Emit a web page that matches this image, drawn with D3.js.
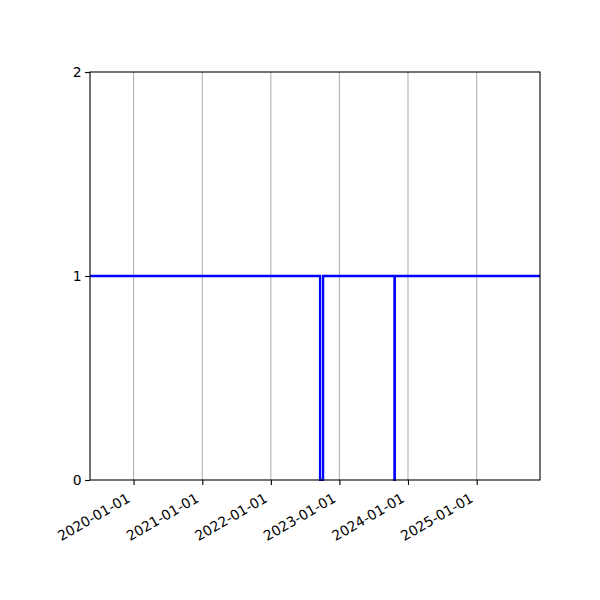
<!DOCTYPE html>
<html>
<meta charset="utf-8">
<style>
  body { margin: 0; background: #fff; }
  text { font-family: "DejaVu Sans", sans-serif; font-size: 13.9px; fill: #000; }
</style>
<script src="https://d3js.org/d3.v7.min.js"></script>
<body>
<script>
var svgWidth = 600, svgHeight = 600;
var margin = { top: 72, right: 60, bottom: 120, left: 90 };

// step series: value holds from each date until the next one
var dates = ["2019-05-14", "2022-09-20", "2022-10-06", "2023-10-21", "2023-10-23", "2025-12-04"];
var values = [1, 0, 1, 0, 1, 1];
var xTicks = ["2020-01-01", "2021-01-01", "2022-01-01", "2023-01-01", "2024-01-01", "2025-01-01"];
var yTicks = [0, 1, 2];

var parse = d3.utcParse("%Y-%m-%d");
var data = dates.map(function(d, i) { return { date: parse(d), value: values[i] }; });

var w = svgWidth - margin.left - margin.right,
    h = svgHeight - margin.top - margin.bottom;

var svg = d3.select("body")
  .append("svg")
  .attr("width", svgWidth)
  .attr("height", svgHeight);

var g = svg.append("g")
  .attr("transform", "translate(" + margin.left + "," + margin.top + ")");

var x = d3.scaleUtc()
  .domain([parse(dates[0]), parse(dates[dates.length - 1])])
  .range([0, w]);

var y = d3.scaleLinear()
  .domain([0, 2])
  .range([h, 0]);

// vertical grid
g.selectAll(".grid")
  .data(xTicks)
  .enter()
  .append("line")
  .attr("x1", function(d) { return x(parse(d)); })
  .attr("x2", function(d) { return x(parse(d)); })
  .attr("y1", 0)
  .attr("y2", h)
  .attr("stroke", "#b0b0b0")
  .attr("stroke-width", 1.1);

var clip = svg.append("clipPath")
  .attr("id", "clip")
  .append("rect")
  .attr("width", w)
  .attr("height", h + 2)
  .attr("y", -1);

var line = d3.line()
  .x(function(d) { return x(d.date); })
  .y(function(d) { return y(d.value); })
  .curve(d3.curveStepAfter);

g.append("path")
  .datum(data)
  .attr("d", line)
  .attr("fill", "none")
  .attr("stroke", "#0000ff")
  .attr("stroke-width", 2.3)
  .attr("clip-path", "url(#clip)");

// axes
var xAxis = d3.axisBottom(x)
  .tickValues(xTicks.map(parse))
  .tickFormat(d3.utcFormat("%Y-%m-%d"))
  .tickSize(4.9)
  .tickPadding(3.5);

var yAxis = d3.axisLeft(y)
  .tickValues(yTicks)
  .tickFormat(d3.format("d"))
  .tickSize(4.9)
  .tickPadding(3.5);

var gx = g.append("g")
  .attr("transform", "translate(0," + h + ")")
  .call(xAxis);
gx.select(".domain").remove();
gx.selectAll("text")
  .attr("font-size", null)
  .attr("font-family", null)
  .attr("y", 0)
  .attr("dy", 0)
  .attr("text-anchor", "end")
  .attr("transform", "translate(-3,21) rotate(-30)");

var gy = g.append("g").call(yAxis);
gy.select(".domain").remove();
gy.selectAll("text")
  .attr("font-size", null)
  .attr("font-family", null);

svg.selectAll(".tick line").attr("stroke", "#000").attr("stroke-width", 1.1);

// frame
g.append("rect")
  .attr("width", w)
  .attr("height", h)
  .attr("fill", "none")
  .attr("stroke", "#000")
  .attr("stroke-width", 1.1);
</script>
</body>
</html>
